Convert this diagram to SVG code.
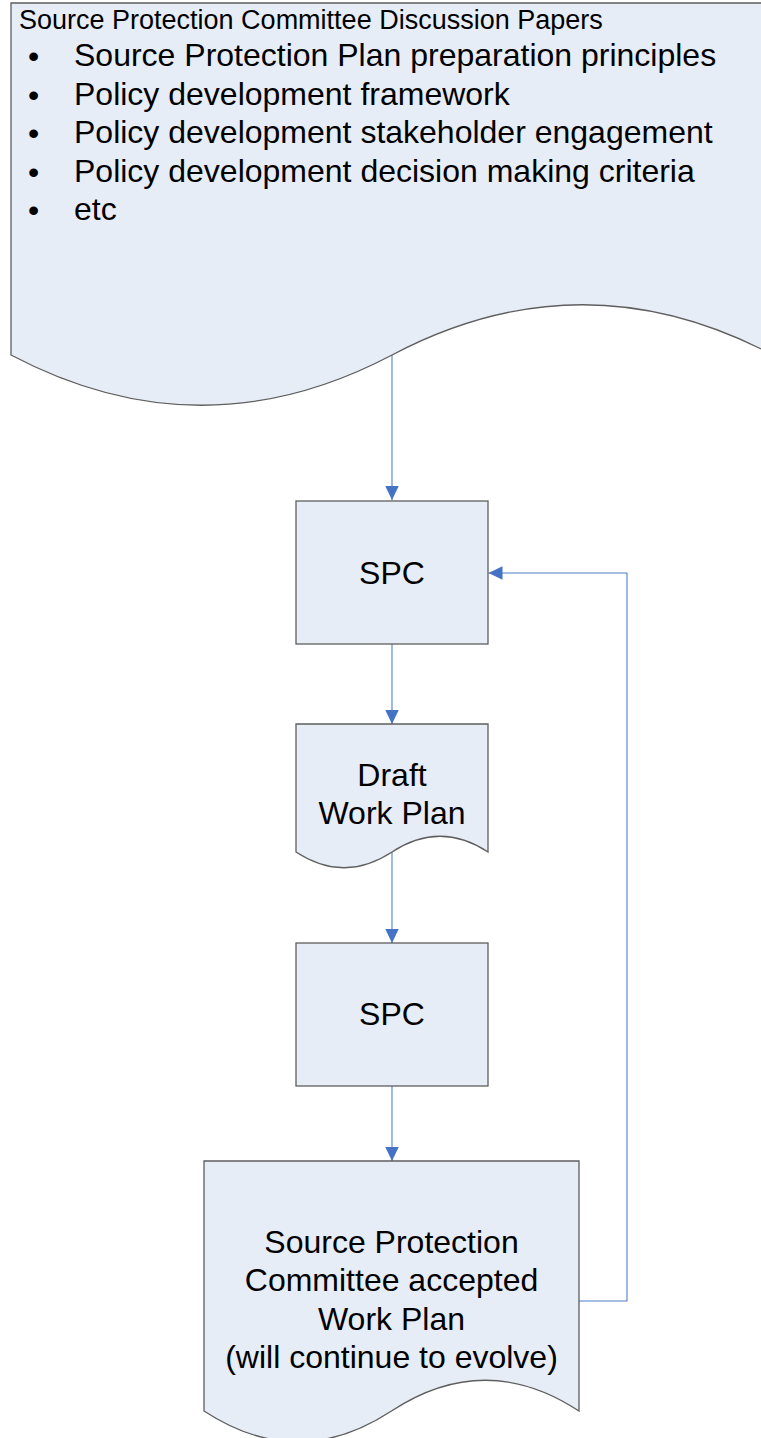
<svg xmlns="http://www.w3.org/2000/svg" width="761" height="1438" viewBox="0 0 761 1438">
  <defs>
    <style>
      .shape { fill: #E7EDF7; stroke: #5E5E5E; stroke-width: 1.3; }
      .conn { fill: none; stroke: #4F7FC8; stroke-width: 1.1; }
      .t { font-family: "Liberation Sans", Arial, sans-serif; fill: #000; }
      .big { font-size: 32px; }
      .mid { font-size: 27px; }
      .c { text-anchor: middle; }
    </style>
    <marker id="arrow" markerUnits="userSpaceOnUse" markerWidth="14" markerHeight="14" refX="14" refY="6.75" orient="auto">
      <path d="M0,0 L14,6.75 L0,13.5 Z" fill="#4472C4"/>
    </marker>
  </defs>
  <rect x="0" y="0" width="761" height="1438" fill="#FFFFFF"/>

  <g id="connectors">
    <path class="conn" d="M392,355 V500" marker-end="url(#arrow)"/>
    <path class="conn" d="M392,644 V724" marker-end="url(#arrow)"/>
    <path class="conn" d="M392,852 V943" marker-end="url(#arrow)"/>
    <path class="conn" d="M392,1086 V1161" marker-end="url(#arrow)"/>
    <path class="conn" d="M579,1301 H627 V573 H488.5" marker-end="url(#arrow)"/>
  </g>

  <g id="discussion-papers">
    <path class="shape" d="M11,3 H780 V355 C773,355 773,355 773,355 C646,288 519,288 392,355 C265,422 138,422 11,355 Z"/>
    <text class="t mid" x="19" y="29">Source Protection Committee Discussion Papers</text>
    <text class="t big" y="67"><tspan x="28">•</tspan><tspan x="74" dy="-1">Source Protection Plan preparation principles</tspan></text>
    <text class="t big" y="105.5"><tspan x="28">•</tspan><tspan x="74" dy="-1">Policy development framework</tspan></text>
    <text class="t big" y="144"><tspan x="28">•</tspan><tspan x="74" dy="-1">Policy development stakeholder engagement</tspan></text>
    <text class="t big" y="182.5"><tspan x="28">•</tspan><tspan x="74" dy="-1">Policy development decision making criteria</tspan></text>
    <text class="t big" y="221"><tspan x="28">•</tspan><tspan x="74" dy="-1">etc</tspan></text>
  </g>

  <g id="spc-1">
    <rect class="shape" x="296" y="501" width="192" height="143"/>
    <text class="t big c" x="392" y="584">SPC</text>
  </g>

  <g id="draft-work-plan">
    <path class="shape" d="M296,724 H488 V852 C456,831 424,831 392,852 C360,873 328,873 296,852 Z"/>
    <text class="t big c" x="392" y="786">Draft</text>
    <text class="t big c" x="392" y="824">Work Plan</text>
  </g>

  <g id="spc-2">
    <rect class="shape" x="296" y="943" width="192" height="143"/>
    <text class="t big c" x="392" y="1025">SPC</text>
  </g>

  <g id="accepted-work-plan">
    <path class="shape" d="M204,1161 H579 V1411 C516.5,1370 454,1370 391.5,1411 C329,1452 266.5,1452 204,1411 Z"/>
    <text class="t big c" x="391.5" y="1252.5">Source Protection</text>
    <text class="t big c" x="391.5" y="1291">Committee accepted</text>
    <text class="t big c" x="391.5" y="1329.5">Work Plan</text>
    <text class="t big c" x="391.5" y="1368">(will continue to evolve)</text>
  </g>
</svg>
